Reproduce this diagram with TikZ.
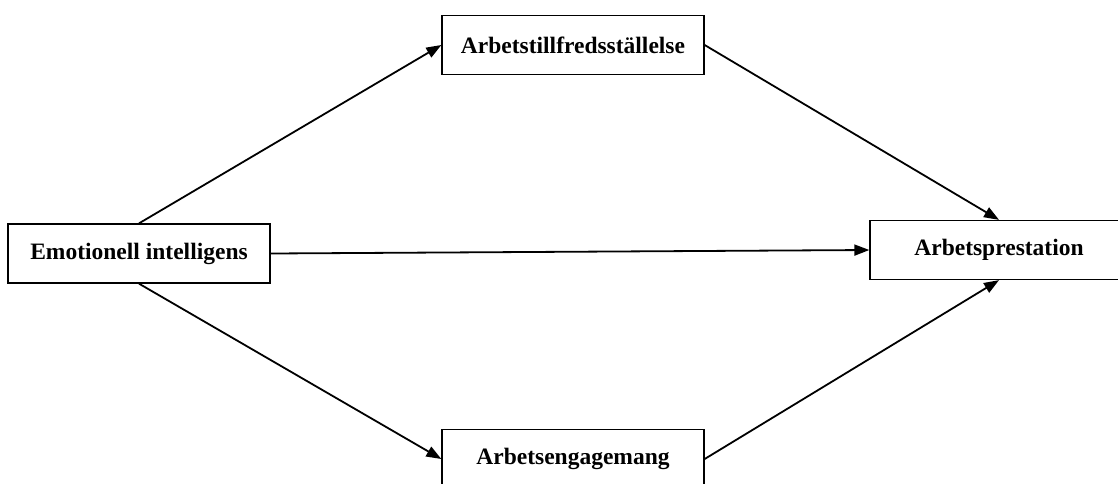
\documentclass[tikz,border=0pt]{standalone}
\usepackage{fontspec}
\setmainfont{Liberation Serif}
\usetikzlibrary{arrows.meta,positioning}

\begin{document}
\begin{tikzpicture}[
  x=1pt, y=-1pt,
  var/.style={draw, line width=1.3pt, minimum width=262pt, minimum height=59pt,
    inner sep=0pt, align=center, font=\fontsize{23.5}{26}\selectfont\bfseries},
  arr/.style={-{Triangle[length=15pt,width=11pt]}, line width=1.8pt}
]
  \useasboundingbox (0,0) rectangle (1118,483);

  \node[var] (emo)  at (139,253.5) {Emotionell intelligens};
  \node[var] (sat)  at (573,45)    {Arbetstillfredsställelse};
  \node[var] (eng)  at (573,459)   {Arbetsengagemang};
  \node[var, minimum width=258pt] (perf) at (999,250) {Arbetsprestation};

  \draw[arr] (emo.north) -- (sat.west);
  \draw[arr] (emo.south) -- (eng.west);
  \draw[arr] (emo.east) -- (perf.west);
  \draw[arr] (sat.east) -- (perf.north);
  \draw[arr] (eng.east) -- (perf.south);
\end{tikzpicture}
\end{document}
